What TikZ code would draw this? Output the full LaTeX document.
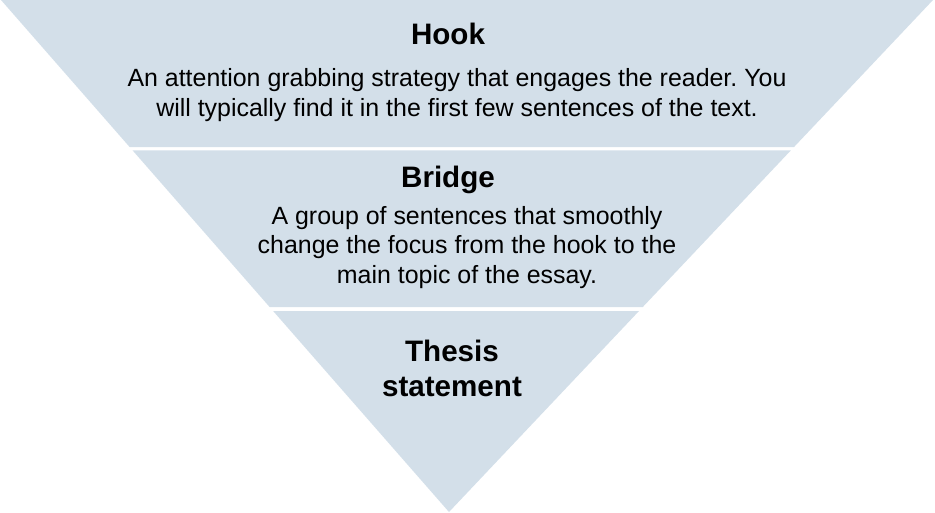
\documentclass[tikz,border=0pt]{standalone}
\usepackage{fontspec}
\setmainfont{Liberation Sans}
\usetikzlibrary{calc}
\definecolor{funnelblue}{RGB}{211,223,233}
\frenchspacing

\begin{document}
\begin{tikzpicture}[x=0.75pt, y=-0.75pt,
    band/.style={fill=funnelblue},
    title/.style={inner sep=0pt, anchor=base, align=center, font=\fontsize{22.2}{26.25}\selectfont\bfseries},
    body/.style={inner sep=0pt, anchor=base, align=center, font=\fontsize{18.7}{22.1}\selectfont}]
    \useasboundingbox (0,0) rectangle (935,512);

    \coordinate (topleft) at (1,0);
    \coordinate (topright) at (933,0);
    \coordinate (apex) at (449,512);

    % three bands of one inverted triangle, split by thin white gaps
    \path [band] (topleft) -- (topright) -- ($(topright)!0.2871!(apex)$) -- ($(topleft)!0.2871!(apex)$) -- cycle;
    \path [band] ($(topleft)!0.2939!(apex)$) -- ($(topright)!0.2939!(apex)$) -- ($(topright)!0.5996!(apex)$) -- ($(topleft)!0.5996!(apex)$) -- cycle;
    \path [band] ($(topleft)!0.6074!(apex)$) -- ($(topright)!0.6074!(apex)$) -- (apex) -- cycle;

    % base anchor sits on the last line
    \node [title] (hook) at (448,44) {Hook};
    \node [body] (hooktext) at (457,116) {An attention grabbing strategy that engages the reader. You\\will typically find it in the first few sentences of the text.};

    \node [title] (bridge) at (448,187) {Bridge};
    \node [body] (bridgetext) at (467,283) {A group of sentences that smoothly\\change the focus from the hook to the\\main topic of the essay.};

    \node [title] (thesis) at (452,396) {Thesis\\statement};

\end{tikzpicture}
\end{document}
